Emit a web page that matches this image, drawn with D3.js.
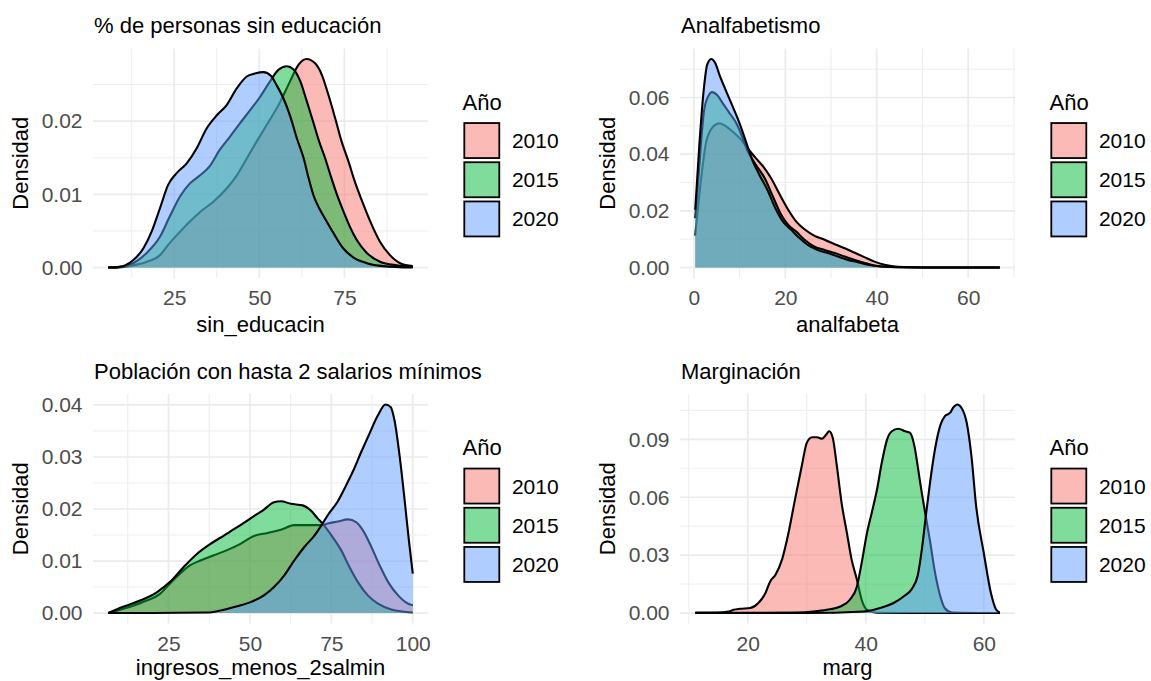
<!DOCTYPE html>
<html><head><meta charset="utf-8">
<script src="https://cdn.jsdelivr.net/npm/d3@7"></script>
<style>body{margin:0;background:#fff}svg{display:block}text{font-family:"Liberation Sans",Arial,Helvetica,sans-serif}</style>
</head><body>
<svg id="chart" width="1151" height="681"></svg>
<script>
// ---------- data ----------
const years = ["2010", "2015", "2020"];
const yearFills = ["#F8766D", "#00BA38", "#619CFF"];
const legendTitle = "Año";
const yTitle = "Densidad";
const panelTitles = ["% de personas sin educación", "Analfabetismo", "Población con hasta 2 salarios mínimos", "Marginación"];
const xTitles = ["sin_educacin", "analfabeta", "ingresos_menos_2salmin", "marg"];

// panel 1: sin_educacin  [x, density]
const sinEdu2010 = [[5.6,0],[10,0.0001],[14,0.0004],[17,0.0008],[20.8,0.0017],[23.2,0.0031],[26.7,0.0049],[29.6,0.0063],[32.6,0.0076],[36.5,0.009],[40.4,0.0108],[43.4,0.0126],[46.3,0.0149],[49.2,0.0172],[52.2,0.0195],[56.1,0.0226],[59,0.0254],[61.5,0.0277],[63.9,0.0285],[66.4,0.0279],[68.4,0.0263],[70.3,0.0236],[72.3,0.0204],[74.2,0.0172],[76.2,0.0145],[78.1,0.0117],[80.1,0.0092],[82.6,0.0063],[85.5,0.0035],[88.4,0.0017],[91.4,0.0006],[95.1,0.0002]];
const sinEdu2015 = [[5.6,0],[9,0.0001],[12,0.0004],[16.9,0.002],[20.8,0.0042],[23.7,0.007],[26.7,0.0097],[29.6,0.0115],[32.6,0.0126],[35.5,0.0139],[38.4,0.0161],[41.4,0.0179],[44.3,0.0197],[47.3,0.0215],[50.2,0.0233],[53.1,0.0254],[55.6,0.027],[58.1,0.0275],[60,0.0271],[62,0.0255],[63.9,0.0228],[65.9,0.0198],[67.6,0.0172],[69.3,0.015],[71,0.0125],[72.8,0.01],[74.7,0.0077],[76.6,0.0056],[78.6,0.0038],[81.6,0.002],[85.5,0.0008],[90.4,0.0003],[95.1,0.0001]];
const sinEdu2020 = [[5.6,0],[9,0.0001],[12.9,0.001],[15.9,0.0026],[18.35,0.0049],[20.8,0.0081],[23.2,0.0113],[25.7,0.0129],[28.6,0.0142],[31.6,0.0163],[34.5,0.019],[37.5,0.0208],[40.4,0.0222],[43.4,0.0245],[46.3,0.0261],[48.7,0.0265],[51.2,0.0267],[53.4,0.0262],[55.1,0.0249],[57.1,0.0231],[59,0.0208],[61,0.0177],[63,0.015],[64.5,0.0122],[65.9,0.0099],[67.6,0.0081],[69.3,0.0067],[71.8,0.0047],[74.7,0.0026],[77.6,0.0014],[81.6,0.0006],[86.5,0.0002],[95.1,0]];

// panel 2: analfabeta
const analf2010 = [[0.3,0.0113],[1.6,0.0315],[2.7,0.0444],[4.2,0.0497],[5.6,0.0509],[7.1,0.0497],[8.9,0.0474],[10.4,0.045],[11.8,0.042],[13.6,0.0385],[15.1,0.0358],[16.9,0.0315],[18.7,0.026],[20.6,0.0205],[22.4,0.0162],[24.2,0.0135],[26.4,0.0112],[28.6,0.0098],[30.8,0.0082],[33,0.0068],[35.2,0.0052],[37.4,0.0036],[39.5,0.0021],[41.7,0.001],[44.6,0.0003],[50,0.00005],[66.9,0]];
const analf2015 = [[0.3,0.0174],[1.2,0.0362],[2.2,0.055],[3.1,0.0603],[4,0.0619],[5.1,0.0609],[6.3,0.058],[7.8,0.0545],[9.3,0.0509],[10.7,0.0456],[11.8,0.041],[13.6,0.0362],[15.5,0.0315],[17.3,0.025],[19.1,0.0186],[20.6,0.0151],[22.4,0.0127],[24.2,0.0098],[26.4,0.0074],[28.6,0.0062],[30.8,0.0051],[33,0.0039],[35.2,0.0027],[37.4,0.0016],[39.5,0.0007],[42.8,0.0002],[50,0.00005],[66.9,0]];
const analf2020 = [[0.3,0.0204],[1.2,0.0433],[2.2,0.0633],[2.9,0.0715],[3.8,0.0736],[4.7,0.0721],[5.6,0.068],[7.1,0.0621],[8.5,0.0568],[10,0.0509],[11.5,0.0439],[12.9,0.0375],[14.4,0.0325],[16.2,0.027],[17.8,0.021],[19.5,0.0162],[21.3,0.0133],[23.1,0.0104],[24.9,0.008],[27.1,0.0062],[29.3,0.0051],[31.5,0.0039],[33.7,0.0027],[35.9,0.0019],[38.1,0.001],[41,0.0004],[45.4,0.0001],[66.9,0]];

// panel 3: ingresos_menos_2salmin
const ingresos2010 = [[6.5,0],[13.2,0.0012],[18.3,0.0024],[22.4,0.0037],[25.5,0.0057],[28.6,0.0076],[31.7,0.0092],[34.8,0.0101],[38.9,0.0111],[43,0.0121],[47.1,0.0133],[51.2,0.0148],[55.4,0.0154],[59.5,0.016],[63.6,0.0169],[68.7,0.0169],[72.3,0.0169],[73.9,0.0172],[77,0.0176],[80.1,0.018],[82.6,0.0175],[84.7,0.0159],[87.3,0.0127],[89.8,0.0092],[92.4,0.006],[95.5,0.0034],[98.6,0.0018],[100,0.0015]];
const ingresos2015 = [[6.5,0],[11.1,0.0012],[16.3,0.0024],[21.4,0.004],[25.5,0.006],[29.6,0.0088],[33.8,0.0114],[37.9,0.0133],[42,0.0149],[46.1,0.0165],[50.2,0.0182],[54.3,0.0199],[57.4,0.0213],[59.5,0.0215],[62.6,0.021],[66.2,0.0207],[68.7,0.0197],[70.8,0.0182],[72.3,0.0172],[75.4,0.0146],[78,0.0121],[80.6,0.0088],[83.1,0.006],[86.2,0.0034],[89.3,0.0018],[93.4,0.0007],[100,0.0001]];
const ingresos2020 = [[6.5,0],[20,0],[36.9,0.0001],[41,0.0005],[46.1,0.0013],[50.2,0.0021],[54.3,0.0034],[57.4,0.005],[60.5,0.0072],[63.6,0.0101],[66.7,0.0127],[69.8,0.0149],[72.3,0.0172],[73.9,0.0188],[77,0.0215],[79.5,0.0245],[81.6,0.0272],[84.2,0.031],[86.7,0.0345],[89.3,0.038],[91.6,0.0401],[93.2,0.0396],[94.4,0.037],[96,0.03],[97.5,0.0217],[98.8,0.014],[100,0.0076]];

// panel 4: marg
const marg2010 = [[11.1,0.0003],[14.8,0.0003],[16.8,0.0008],[17.6,0.0017],[18.7,0.0022],[20.4,0.0026],[21.8,0.0052],[23,0.0104],[23.8,0.0164],[24.7,0.0199],[25.8,0.0277],[26.9,0.0415],[28,0.0588],[29.2,0.077],[30,0.0882],[30.9,0.0911],[31.7,0.0911],[32.6,0.0903],[33.3,0.0925],[33.8,0.0942],[34.4,0.0908],[35.1,0.0761],[35.9,0.0571],[36.8,0.0415],[37.6,0.0277],[38.5,0.0173],[39.3,0.0069],[40.2,0.0017],[41.9,0.0002],[50,0],[62.7,0]];
const marg2015 = [[11.1,0],[28.3,0.0003],[31.1,0.0008],[33.4,0.0017],[35.7,0.0034],[37.3,0.0069],[38.5,0.0138],[39.3,0.026],[40.2,0.0415],[41,0.0519],[41.9,0.064],[42.7,0.0778],[43.6,0.0899],[44.4,0.0942],[45.5,0.0955],[46.7,0.0942],[47.5,0.0934],[48.3,0.0856],[48.9,0.074],[49.5,0.062],[50,0.053],[50.9,0.037],[51.7,0.0215],[52.6,0.009],[53.4,0.0025],[54.6,0.0003],[62.7,0]];
const marg2020 = [[11.1,0],[30,0],[39.6,0.0008],[42.4,0.0026],[44.7,0.0052],[46.4,0.0086],[47.8,0.0125],[48.8,0.0195],[49.5,0.033],[50.2,0.051],[50.9,0.068],[51.7,0.0845],[52.6,0.097],[53.4,0.102],[54.3,0.1038],[54.8,0.1064],[55.5,0.1081],[56.2,0.1064],[57.1,0.0986],[57.9,0.0813],[58.7,0.0553],[60,0.031],[61.2,0.0104],[62.1,0.0017],[62.7,0.0003]];

// tick values
const xMajor1 = [25, 50, 75],      xMinor1 = [12.5, 37.5, 62.5, 87.5];
const yMajor1 = [0, 0.01, 0.02],   yMinor1 = [0.005, 0.015, 0.025];
const xMajor2 = [0, 20, 40, 60],   xMinor2 = [10, 30, 50, 70];
const yMajor2 = [0, 0.02, 0.04, 0.06], yMinor2 = [0.01, 0.03, 0.05, 0.07];
const xMajor3 = [25, 50, 75, 100], xMinor3 = [12.5, 37.5, 62.5, 87.5];
const yMajor3 = [0, 0.01, 0.02, 0.03, 0.04], yMinor3 = [0.005, 0.015, 0.025, 0.035];
const xMajor4 = [20, 40, 60],      xMinor4 = [10, 30, 50];
const yMajor4 = [0, 0.03, 0.06, 0.09], yMinor4 = [0.015, 0.045, 0.075, 0.105];

// ---------- layout ----------
const PW = 335, PH = 229.5;
const panels = [
  {left: 93,  top: 48.5, xt: 54,   series: [sinEdu2010, sinEdu2015, sinEdu2020], xMajor: xMajor1, xMinor: xMinor1, yMajor: yMajor1, yMinor: yMinor1},
  {left: 680, top: 48.5, xt: 54,   series: [analf2010, analf2015, analf2020],   xMajor: xMajor2, xMinor: xMinor2, yMajor: yMajor2, yMinor: yMinor2},
  {left: 93,  top: 394,  xt: 51,   series: [ingresos2010, ingresos2015, ingresos2020], xMajor: xMajor3, xMinor: xMinor3, yMajor: yMajor3, yMinor: yMinor3},
  {left: 680, top: 394,  xt: 51,   series: [marg2010, marg2015, marg2020],      xMajor: xMajor4, xMinor: xMinor4, yMajor: yMajor4, yMinor: yMinor4}
];

const svg = d3.select("#chart");
const GRID = "#EBEBEB";

panels.forEach((p, pi) => {
  const all = p.series.flat();
  const xExt = d3.extent(all, d => d[0]);
  const xPad = (xExt[1] - xExt[0]) * 0.05;
  const x = d3.scaleLinear().domain([xExt[0] - xPad, xExt[1] + xPad]).range([p.left, p.left + PW]);
  const yMax = d3.max(all, d => d[1]);
  const y = d3.scaleLinear().domain([-yMax * 0.05, yMax * 1.05]).range([p.top + PH, p.top]);

  const g = svg.append("g");

  // grid
  const grid = g.append("g");
  grid.selectAll(".xmin").data(p.xMinor).join("line")
    .attr("x1", d => x(d)).attr("x2", d => x(d)).attr("y1", p.top).attr("y2", p.top + PH)
    .attr("stroke", GRID).attr("stroke-width", 0.9);
  grid.selectAll(".ymin").data(p.yMinor).join("line")
    .attr("y1", d => y(d)).attr("y2", d => y(d)).attr("x1", p.left).attr("x2", p.left + PW)
    .attr("stroke", GRID).attr("stroke-width", 0.9);
  grid.selectAll(".xmaj").data(p.xMajor).join("line")
    .attr("x1", d => x(d)).attr("x2", d => x(d)).attr("y1", p.top).attr("y2", p.top + PH)
    .attr("stroke", GRID).attr("stroke-width", 1.7);
  grid.selectAll(".ymaj").data(p.yMajor).join("line")
    .attr("y1", d => y(d)).attr("y2", d => y(d)).attr("x1", p.left).attr("x2", p.left + PW)
    .attr("stroke", GRID).attr("stroke-width", 1.7);

  // densities
  const area = d3.area().x(d => x(d[0])).y0(y(0)).y1(d => y(d[1])).curve(d3.curveMonotoneX);
  const line = d3.line().x(d => x(d[0])).y(d => y(d[1])).curve(d3.curveMonotoneX);
  p.series.forEach((s, i) => {
    g.append("path").datum(s).attr("d", area)
      .attr("fill", yearFills[i]).attr("fill-opacity", 0.5).attr("stroke", "none");
    g.append("path").datum(s).attr("d", line)
      .attr("fill", "none").attr("stroke", "#000").attr("stroke-width", 2.1)
      .attr("stroke-linejoin", "round");
  });

  // axes
  const xAxis = g.append("g").attr("transform", `translate(0,${p.top + PH})`)
    .call(d3.axisBottom(x).tickValues(p.xMajor).tickSize(0).tickPadding(12.5).tickFormat(d3.format("d")));
  const yAxis = g.append("g").attr("transform", `translate(${p.left},0)`)
    .call(d3.axisLeft(y).tickValues(p.yMajor).tickSize(0).tickPadding(10.5).tickFormat(d3.format(".2f")));
  [xAxis, yAxis].forEach(a => {
    a.select(".domain").remove();
    a.selectAll("text").attr("fill", "#4D4D4D").style("font-size", "21px")
      .style("font-family", '"Liberation Sans", Arial, sans-serif');
  });

  // titles
  g.append("text").attr("x", p.left + 1).attr("y", p.top - 15.5)
    .attr("fill", "#000").style("font-size", "22px").text(panelTitles[pi]);
  g.append("text").attr("x", p.left + PW / 2).attr("y", p.top + PH + p.xt)
    .attr("text-anchor", "middle").attr("fill", "#000").style("font-size", "22px").text(xTitles[pi]);
  g.append("text")
    .attr("transform", `translate(${p.left - 73},${p.top + PH / 2}) rotate(-90)`)
    .attr("text-anchor", "middle").attr("dy", "0.36em")
    .attr("fill", "#000").style("font-size", "22px").text(yTitle);

  // legend
  const lx = p.left + PW + 34.5, cy = p.top + PH / 2;
  const lg = g.append("g");
  lg.append("text").attr("x", lx).attr("y", cy - 53.6)
    .attr("fill", "#000").style("font-size", "22px").text(legendTitle);
  years.forEach((yr, i) => {
    const ky = cy - 41 + i * 39.2;
    lg.append("rect").attr("x", lx + 1.8).attr("y", ky + 0.8).attr("width", 35).attr("height", 35)
      .attr("fill", yearFills[i]).attr("fill-opacity", 0.5)
      .attr("stroke", "#000").attr("stroke-width", 1.8);
    lg.append("text").attr("x", lx + 49.4).attr("y", ky + 18.3 + 7.5)
      .attr("fill", "#000").style("font-size", "21px").text(yr);
  });
});
</script>
</body></html>
